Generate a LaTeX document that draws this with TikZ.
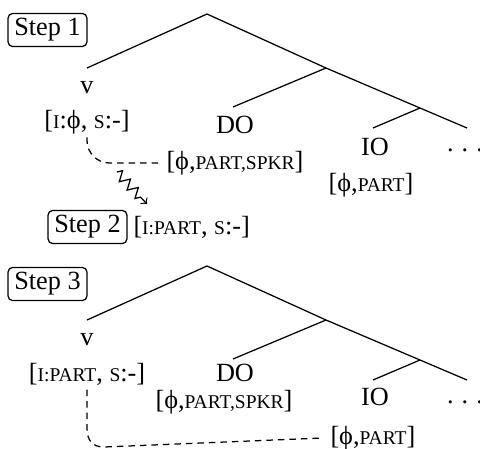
\documentclass[tikz,border=0pt]{standalone}
\usepackage{fontspec}
\setmainfont{Liberation Serif}
\usetikzlibrary{decorations.pathmorphing}

\newcommand\smc[1]{{\fontsize{7.8}{9}\selectfont #1}}
\newcommand\wdots{.\hspace{3.2pt}.\hspace{3.2pt}.}

\begin{document}
\begin{tikzpicture}[x=0.4pt,y=-0.4pt,font=\fontsize{10.5}{12}\selectfont,
  every node/.style={inner sep=0pt},
  stepbox/.style={draw,line width=0.5pt,rounded corners=1.8pt,inner xsep=2.5pt,inner ysep=2pt},
  branch/.style={line width=0.5pt},
  agree/.style={line width=0.5pt,dash pattern=on 2.6pt off 2pt}]
\useasboundingbox (0,0) rectangle (480,448);

%Step 1 tree
\coordinate (t1top) at (207,14);
\coordinate (t1v) at (87,68);
\coordinate (t1a) at (326,68);
\coordinate (t1do) at (233,107);
\coordinate (t1b) at (420,108);
\coordinate (t1io) at (373,128);
\coordinate (t1r) at (467,128);
\draw[branch] (t1v) -- (t1top) -- (t1a) -- (t1b) -- (t1r);
\draw[branch] (t1a) -- (t1do);
\draw[branch] (t1b) -- (t1io);

\node[stepbox] (step1) at (47.5,30) {Step 1};
\node (v1) at (87,88) {v};
\node (v1f) at (87,122) {[\smc{I}:ϕ, \smc{S}:-]};
\node (do1) at (235,125) {DO};
\node[anchor=west] (do1f) at (166,163) {[ϕ,\smc{PART,SPKR}]};
\node (io1) at (375,147) {IO};
\node (dots1) at (465,150) {\wdots};
\node (io1f) at (371,185) {[ϕ,\smc{PART}]};

%agreement probe
\draw[agree,rounded corners=9pt] (v1f.south) ++(0,3) |- ([xshift=-3pt]do1f.west);
\draw[->,line width=0.5pt,decorate,decoration={zigzag,amplitude=2pt,segment length=4.6pt,post length=3pt}] (117,172) -- (147,204);

%Step 2
\node[stepbox] (step2) at (87.5,227) {Step 2};
\node[anchor=west] (v2f) at (133,227) {[\smc{I:PART}, \smc{S}:-]};

%Step 3 tree
\coordinate (t3top) at (207,266);
\coordinate (t3v) at (87,320);
\coordinate (t3a) at (326,320);
\coordinate (t3do) at (233,359);
\coordinate (t3b) at (420,360);
\coordinate (t3io) at (373,380);
\coordinate (t3r) at (467,380);
\draw[branch] (t3v) -- (t3top) -- (t3a) -- (t3b) -- (t3r);
\draw[branch] (t3a) -- (t3do);
\draw[branch] (t3b) -- (t3io);

\node[stepbox] (step3) at (47.5,284) {Step 3};
\node (v3) at (87,340) {v};
\node (v3f) at (87,374) {[\smc{I:PART}, \smc{S}:-]};
\node (do3) at (235,373) {DO};
\node (do3f) at (224,402) {[ϕ,\smc{PART,SPKR}]};
\node (io3) at (375,397) {IO};
\node (dots3) at (465,402) {\wdots};
\node[anchor=west] (io3f) at (330,438) {[ϕ,\smc{PART}]};

\draw[agree] (v3f.south) ++(0,4) -- (87,428) .. controls (87,441) and (93,447) .. (104,447) -- ([xshift=-3pt]io3f.west);
\end{tikzpicture}
\end{document}
